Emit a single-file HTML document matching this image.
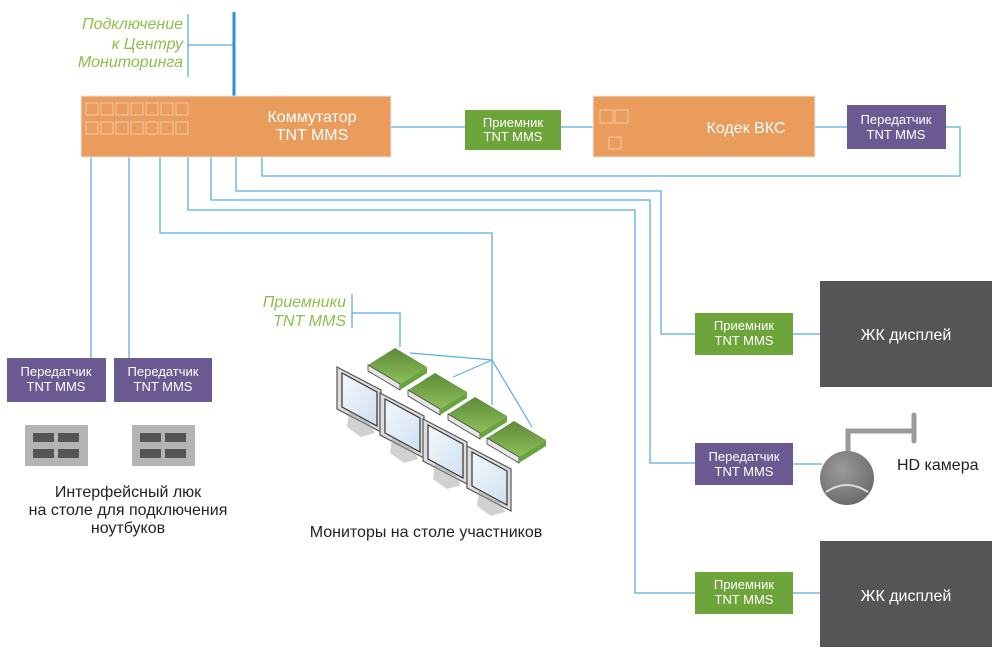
<!DOCTYPE html>
<html><head><meta charset="utf-8"><style>
html,body{margin:0;padding:0;background:#fff;}
svg{display:block;}
text{font-family:"Liberation Sans",sans-serif;}
</style></head><body>
<svg width="1000" height="654" viewBox="0 0 1000 654" xmlns="http://www.w3.org/2000/svg">
<defs>
<linearGradient id="gr" x1="0" y1="0" x2="0" y2="1"><stop offset="0" stop-color="#5d8a3a"/><stop offset="1" stop-color="#8dbf58"/></linearGradient>
<linearGradient id="scr" x1="0" y1="0" x2="1" y2="1"><stop offset="0" stop-color="#f4f8fc"/><stop offset="1" stop-color="#cfe0f0"/></linearGradient>
<radialGradient id="cam" cx="0.4" cy="0.35" r="0.7"><stop offset="0" stop-color="#9a9a9a"/><stop offset="1" stop-color="#6a6a6a"/></radialGradient>
<g id="mon">
<polygon points="0,23 4,28 18,36 18,41 26,40 8,30" fill="#aaa" opacity="0.6"/>
<polygon points="-2,0 42,23 42,65 -2,42" fill="#ddd" stroke="#555" stroke-width="1.2"/>
<polygon points="3,6 38,25 38,59 3,40" fill="url(#scr)" stroke="#333" stroke-width="1.2"/>
<polygon points="10,44 30,55 36,66 22,70 8,60" fill="#999" opacity="0.45"/>
</g>
<g id="rcv">
<polygon points="0,17 27,0 59,19 32,36" fill="url(#gr)"/>
<polygon points="0,17 32,36 32,42 0,23" fill="#e6e6e6" stroke="#444" stroke-width="0.8"/>
<polygon points="32,36 59,19 59,25 32,42" fill="#6aa33d"/>
</g>
</defs>

<g stroke="#5aaee0" stroke-width="1.3" fill="none">
<polyline points="188,14 188,77"/>
<line x1="188" y1="45" x2="234" y2="45"/>
<line x1="391" y1="127" x2="465" y2="127"/>
<line x1="561" y1="127" x2="593" y2="127"/>
<line x1="815" y1="127" x2="847" y2="127"/>
<polyline points="946,127 960,127 960,176 262,176 262,157"/>
<polyline points="236,157 236,191 661,191 661,334 695,334"/>
<polyline points="211,157 211,200 650,200 650,463 695,463"/>
<polyline points="188,157 188,210 635,210 635,593 695,593"/>
<polyline points="160,157 160,233 492,233 492,405"/>
<line x1="91" y1="157" x2="91" y2="358"/>
<line x1="129" y1="157" x2="129" y2="358"/>
<line x1="793" y1="334" x2="820" y2="334"/>
<line x1="793" y1="593" x2="820" y2="593"/>
<line x1="793" y1="464" x2="822" y2="464"/>
<polyline points="352,294 352,328"/>
<polyline points="352,313 400,313 400,347"/>
</g>
<line x1="234" y1="12" x2="234" y2="101" stroke="#2f8fd0" stroke-width="3"/>

<g fill="#8cc04a" font-size="16" font-style="italic" text-anchor="end">
<text x="183" y="29">Подключение</text>
<text x="183" y="49">к Центру</text>
<text x="183" y="67">Мониторинга</text>
<text x="346" y="307">Приемники</text>
<text x="346" y="326">TNT MMS</text>
</g>

<rect x="81" y="96" width="310" height="61" fill="#e99c5c" stroke="#e2e6ea" stroke-width="1"/>
<rect x="593" y="96" width="222" height="61" fill="#e99c5c" stroke="#e2e6ea" stroke-width="1"/>
<g fill="none" stroke="#f2c9a6" stroke-width="1">
<rect x="86" y="103" width="12" height="12"/><rect x="101" y="103" width="12" height="12"/><rect x="116" y="103" width="12" height="12"/><rect x="131" y="103" width="12" height="12"/><rect x="146" y="103" width="12" height="12"/><rect x="161" y="103" width="12" height="12"/><rect x="176" y="103" width="12" height="12"/>
<rect x="86" y="122" width="12" height="12"/><rect x="101" y="122" width="12" height="12"/><rect x="116" y="122" width="12" height="12"/><rect x="131" y="122" width="12" height="12"/><rect x="146" y="122" width="12" height="12"/><rect x="161" y="122" width="12" height="12"/><rect x="176" y="122" width="12" height="12"/>
<rect x="600" y="110" width="13" height="13"/><rect x="615" y="110" width="13" height="13"/><rect x="609" y="137" width="12" height="12"/>
</g>
<g fill="#fff" font-size="16" text-anchor="middle">
<text x="312" y="122">Коммутатор</text>
<text x="312" y="140">TNT MMS</text>
<text x="746" y="133">Кодек ВКС</text>
</g>

<g font-size="13" fill="#fff" text-anchor="middle">
<rect x="465" y="110" width="96" height="40" fill="#6ea53b"/>
<text x="513" y="127">Приемник</text><text x="513" y="141">TNT MMS</text>
<rect x="847" y="105" width="99" height="44" fill="#6b5a92"/>
<text x="896" y="124">Передатчик</text><text x="896" y="139">TNT MMS</text>
<rect x="695" y="313" width="98" height="42" fill="#6ea53b"/>
<text x="744" y="330">Приемник</text><text x="744" y="345">TNT MMS</text>
<rect x="695" y="443" width="98" height="42" fill="#6b5a92"/>
<text x="744" y="461">Передатчик</text><text x="744" y="476">TNT MMS</text>
<rect x="695" y="572" width="98" height="42" fill="#6ea53b"/>
<text x="744" y="589">Приемник</text><text x="744" y="604">TNT MMS</text>
<rect x="7" y="358" width="99" height="44" fill="#6b5a92"/>
<text x="56" y="376">Передатчик</text><text x="56" y="391">TNT MMS</text>
<rect x="114" y="358" width="98" height="44" fill="#6b5a92"/>
<text x="163" y="376">Передатчик</text><text x="163" y="391">TNT MMS</text>
</g>

<rect x="820" y="281" width="172" height="106" fill="#555555"/>
<text x="906" y="340" fill="#fff" font-size="16" text-anchor="middle">ЖК дисплей</text>
<rect x="820" y="541" width="172" height="106" fill="#555555"/>
<text x="906" y="601" fill="#fff" font-size="16" text-anchor="middle">ЖК дисплей</text>

<polyline points="848,452 848,431 913,431" fill="none" stroke="#9a9a9a" stroke-width="5"/>
<line x1="914" y1="415" x2="914" y2="441" stroke="#9a9a9a" stroke-width="5" stroke-linecap="round"/>
<circle cx="847" cy="478" r="27" fill="url(#cam)"/>
<path d="M826,492 Q847,478 868,492" fill="none" stroke="#ddd" stroke-width="2"/>
<text x="897" y="470" fill="#222" font-size="16">HD камера</text>

<rect x="25" y="425" width="63" height="41" fill="#b4b4b4"/>
<g fill="#555"><rect x="33" y="433" width="21" height="9"/><rect x="58" y="433" width="21" height="9"/><rect x="33" y="449" width="21" height="9"/><rect x="58" y="449" width="21" height="9"/></g>
<rect x="132" y="425" width="63" height="41" fill="#b4b4b4"/>
<g fill="#555"><rect x="140" y="433" width="21" height="9"/><rect x="165" y="433" width="21" height="9"/><rect x="140" y="449" width="21" height="9"/><rect x="165" y="449" width="21" height="9"/></g>
<g fill="#222" font-size="16" text-anchor="middle">
<text x="128" y="497">Интерфейсный люк</text>
<text x="128" y="515">на столе для подключения</text>
<text x="128" y="533">ноутбуков</text>
<text x="426" y="537">Мониторы на столе участников</text>
</g>

<use href="#rcv" x="368" y="348"/>
<use href="#rcv" x="408" y="373"/>
<use href="#rcv" x="448" y="397"/>
<use href="#rcv" x="487" y="421"/>
<use href="#mon" x="339" y="367"/>
<use href="#mon" x="382" y="393"/>
<use href="#mon" x="425" y="419"/>
<use href="#mon" x="469" y="446"/>
<g stroke="#5aaee0" stroke-width="1.2">
<line x1="492" y1="360" x2="410" y2="353"/>
<line x1="492" y1="360" x2="453" y2="377"/>
<line x1="492" y1="360" x2="532" y2="427"/>
</g>
</svg>
</body></html>
